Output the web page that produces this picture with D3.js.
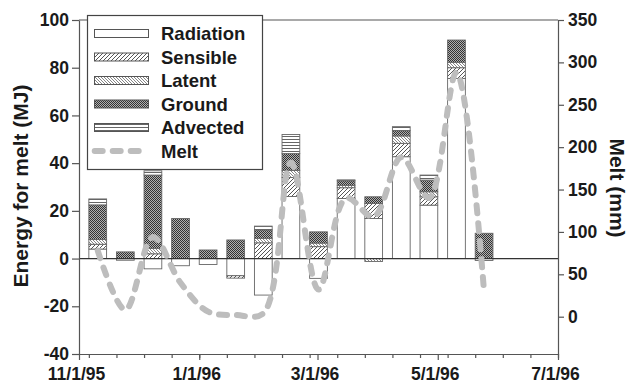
<!DOCTYPE html>
<html><head><meta charset="utf-8">
<script src="https://cdn.jsdelivr.net/npm/d3@7"></script>
<style>
html,body{margin:0;padding:0;background:#fff;}
svg{display:block;}
text{font-family:"Liberation Sans",Arial,sans-serif;font-weight:bold;fill:#1a1a1a;}
</style></head>
<body>
<svg id="c" width="630" height="384"></svg>
<script>
// ---- data ----
const periodStart = ["1995-11-06","1995-11-20","1995-12-04","1995-12-18","1996-01-01","1996-01-15","1996-01-29","1996-02-12","1996-02-26","1996-03-11","1996-03-25","1996-04-08","1996-04-22","1996-05-06","1996-05-20"];
const seriesNames = ["Radiation","Sensible","Latent","Ground","Advected"];
const radiation = [4, -0.7, -4.3, -3, -2.5, -7.2, -15.3, 26, -8.3, 25.2, 16.8, 42.7, 22.4, 75.5, -0.8];
const sensible  = [2, 0, 2, 0, 0, -1, 6.6, 8, 5, 4.5, 6.3, 5.6, 3.5, 4.5, 0];
const latent    = [2, 0, 2.3, 0, 0, 0, 1.9, 3, 1.5, 1, -1.2, 3.1, 2.1, 2.3, 0];
const ground    = [14.5, 2.8, 30.7, 16.8, 3.6, 7.8, 3.5, 7, 4.7, 1.9, 2.8, 2.2, 4.9, 9.3, 10.6];
const advected  = [2.5, 0, 1.8, 0, 0, 0, 1.6, 8, 0, 0.4, 0, 1.7, 2.1, 0, 0];
const melt      = [78, 8, 94, 40, 6, 2, 4, 182, 32, 140, 118, 188, 140, 288, 29];
const xTickLabels = ["11/1/95","1/1/96","3/1/96","5/1/96","7/1/96"];
const yLeftTicks = [-40,-20,0,20,40,60,80,100];
const yRightTicks = [0,50,100,150,200,250,300,350];

// ---- setup ----
const svg = d3.select("#c");
const L = 79, R = 558, T = 20, B = 354;
const parseIso = d3.utcParse("%Y-%m-%d");
const parseLbl = d3.utcParse("%m/%d/%y");
const starts = periodStart.map(parseIso);
const x = d3.scaleUtc().domain([parseLbl("11/1/95"), parseLbl("7/1/96")]).range([L, R]);
const yL = d3.scaleLinear().domain([-40, 100]).range([B, T]);
const yR = d3.scaleLinear().domain([-44, 350]).range([B, T]);
const barDays = 9;

// patterns
const defs = svg.append("defs");
function pat(id, w, h, bg, draw){
  const p = defs.append("pattern").attr("id", id).attr("patternUnits","userSpaceOnUse").attr("width", w).attr("height", h);
  p.append("rect").attr("width", w).attr("height", h).attr("fill", bg);
  draw(p);
}
pat("p-sens", 4, 4, "#fff", p => p.append("path").attr("d","M-1,1 l2,-2 M0,4 l4,-4 M3,5 l2,-2").attr("stroke","#555").attr("stroke-width",1));
pat("p-lat", 3, 3, "#fff", p => p.append("path").attr("d","M-1,2 l2,2 M0,0 l3,3 M2,-1 l2,2").attr("stroke","#777").attr("stroke-width",0.9));
pat("p-gnd", 2, 2, "#b0b0b0", p => { p.append("rect").attr("width",1).attr("height",1).attr("fill","#333"); p.append("rect").attr("x",1).attr("y",1).attr("width",1).attr("height",1).attr("fill","#333"); });
pat("p-adv", 3, 3, "#fff", p => p.append("rect").attr("y",1).attr("width",3).attr("height",1).attr("fill","#666"));
const fills = {Radiation:"#fff", Sensible:"url(#p-sens)", Latent:"url(#p-lat)", Ground:"url(#p-gnd)", Advected:"url(#p-adv)"};

// stacked data
const table = starts.map((d,i)=>({date:d, Radiation:radiation[i], Sensible:sensible[i], Latent:latent[i], Ground:ground[i], Advected:advected[i], melt:melt[i]}));
const stack = d3.stack().keys(seriesNames).offset(d3.stackOffsetDiverging)(table);

const barW = d => x(d3.utcDay.offset(d, barDays)) - x(d);
const gBars = svg.append("g");
stack.forEach(s => {
  gBars.selectAll(null).data(s.filter(d => d[1] !== d[0])).join("rect")
    .attr("x", d => x(d.data.date))
    .attr("width", d => barW(d.data.date))
    .attr("y", d => yL(Math.max(d[0], d[1])))
    .attr("height", d => Math.abs(yL(d[0]) - yL(d[1])))
    .attr("fill", fills[s.key])
    .attr("stroke", "#666").attr("stroke-width", 0.9);
});

// zero line
svg.append("line").attr("x1", L).attr("x2", R).attr("y1", yL(0)).attr("y2", yL(0)).attr("stroke","#333").attr("stroke-width",1.2);

// melt line
const line = d3.line()
  .x(d => x(d.date) + barW(d.date)/2)
  .y(d => yR(d.melt))
  .curve(d3.curveCatmullRom.alpha(0.5));
svg.append("path").datum(table).attr("d", line)
  .attr("fill","none").attr("stroke","#bdbdbd").attr("stroke-width",6)
  .attr("stroke-linecap","round").attr("stroke-dasharray","8,10");

// frame
svg.append("line").attr("x1",L).attr("x2",R).attr("y1",T).attr("y2",T).attr("stroke","#555").attr("stroke-width",1.2);

// axes
const fmt = d => String(d);
const axL = svg.append("g").attr("transform",`translate(${L},0)`)
  .call(d3.axisLeft(yL).tickValues(yLeftTicks).tickFormat(fmt).tickSize(7).tickSizeOuter(0).tickPadding(3));
const axR = svg.append("g").attr("transform",`translate(${R},0)`)
  .call(d3.axisRight(yR).tickValues(yRightTicks).tickFormat(fmt).tickSize(6).tickSizeOuter(0).tickPadding(4));
const majorDates = xTickLabels.map(parseLbl);
const axB = svg.append("g").attr("transform",`translate(0,${B})`)
  .call(d3.axisBottom(x).tickValues(majorDates).tickFormat((d,i)=>xTickLabels[i]).tickSize(6).tickSizeOuter(0).tickPadding(8));
const minor = d3.utcDay.range(starts[0], d3.utcDay.offset(parseLbl("7/1/96"),1), 14);
svg.append("g").attr("transform",`translate(0,${B})`)
  .call(d3.axisBottom(x).tickValues(minor).tickFormat("").tickSize(4).tickSizeOuter(0))
  .select(".domain").remove();
[axL, axR, axB].forEach(a => {
  a.select(".domain").attr("stroke","#555").attr("stroke-width",1.2);
  a.selectAll(".tick text").style("font-size","17.5px").style("font-weight","bold").attr("fill","#1a1a1a");
});
axB.selectAll(".tick text").attr("dx", -3);
svg.selectAll(".tick line").attr("stroke","#555").attr("stroke-width",1.2);

// axis titles
svg.append("text").attr("transform","translate(20,186) rotate(-90)").attr("text-anchor","middle")
  .attr("dominant-baseline","central").style("font-size","21px").text("Energy for melt (MJ)");
svg.append("text").attr("transform","translate(617,188) rotate(90)").attr("text-anchor","middle")
  .attr("dominant-baseline","central").style("font-size","21px").text("Melt (mm)");

// legend
const lg = svg.append("g");
lg.append("rect").attr("x",87.5).attr("y",15.5).attr("width",175).attr("height",154).attr("fill","#fff").attr("stroke","#444").attr("stroke-width",1.2);
const rowY = i => 33.5 + i*23.5;
seriesNames.forEach((k,i) => {
  lg.append("rect").attr("x",94.5).attr("y",rowY(i)-4).attr("width",54).attr("height",8).attr("fill",fills[k]).attr("stroke","#555").attr("stroke-width",1);
  lg.append("text").attr("x",161).attr("y",rowY(i)+6.5).style("font-size","18.5px").text(k);
});
lg.append("line").attr("x1",94.7).attr("x2",139).attr("y1",rowY(5)).attr("y2",rowY(5))
  .attr("stroke","#bdbdbd").attr("stroke-width",6).attr("stroke-linecap","round").attr("stroke-dasharray","8,10");
lg.append("text").attr("x",161).attr("y",rowY(5)+6.5).style("font-size","18.5px").text("Melt");
</script>
</body></html>
